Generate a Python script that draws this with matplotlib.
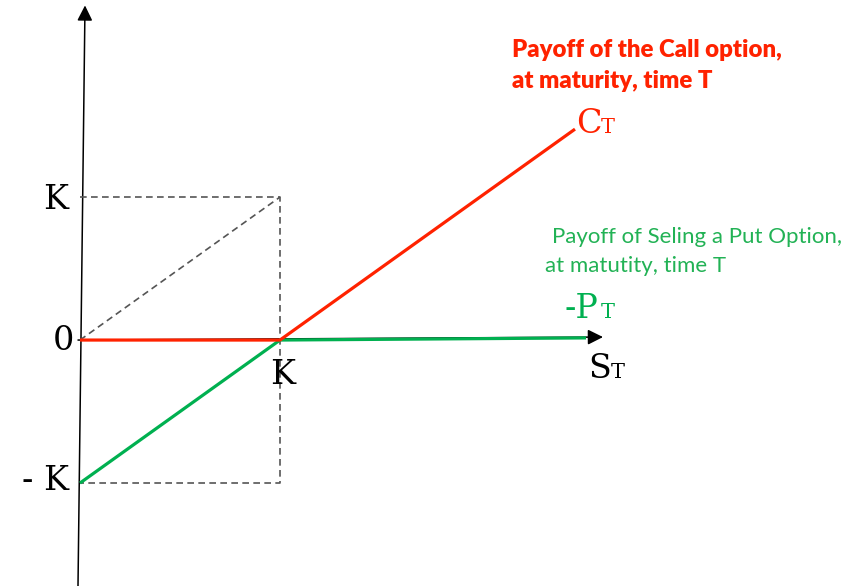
import matplotlib
matplotlib.use("Agg")
import matplotlib.pyplot as plt

# payoff diagram, units where strike K = 1
strike = 1.0
call_s = [0.0, 1.0, 2.475]
call_payoff = [0.0, 0.0, 1.475]
put_s = [0.0, 1.0, 2.53]
put_payoff = [-1.0, 0.0, 0.015]

# guide box (dashed)
guide_top_x = [0.0, 1.0, 1.0, 0.0]
guide_top_y = [1.0, 1.0, -1.0, -1.0]
guide_diag_x = [0.0, 1.0]
guide_diag_y = [0.0, 1.0]

red = "#ff2200"
green_line = "#00b050"
green_text = "#22b255"
grey = "#555555"

fig = plt.figure(figsize=(8.67, 5.86), dpi=100)
ax = fig.add_axes([0, 0, 1, 1])
ax.set_xlim(-0.4, 3.935)
ax.set_ylim(-1.72, 2.378)
ax.axis("off")

# axes drawn as arrows
arrow = dict(arrowstyle="-|>,head_length=0.4,head_width=0.2", color="black",
             lw=1.1, mutation_scale=23, shrinkA=0, shrinkB=0)
ax.annotate("", xy=(0.025, 2.34), xytext=(-0.01, -1.72), arrowprops=arrow, zorder=1)
ax.annotate("", xy=(2.615, 0.021), xytext=(-0.01, 0.0), arrowprops=arrow, zorder=1)

# dashed guides
ax.plot(guide_top_x, guide_top_y, color=grey, lw=1.2, ls=(0, (4, 2.6)), zorder=2)
ax.plot(guide_diag_x, guide_diag_y, color=grey, lw=1.2, ls=(0, (4, 2.6)), zorder=2)

# payoffs
ax.plot(put_s, put_payoff, color=green_line, lw=2.3, zorder=3, solid_capstyle="butt")
ax.plot(call_s, call_payoff, color=red, lw=2.3, zorder=4, solid_capstyle="butt")

serif = "DejaVu Serif"
lab = dict(fontsize=24, family=serif)
ax.text(-0.12, 0.98, "K", ha="center", va="center", **lab)
ax.text(-0.085, -0.01, "0", ha="center", va="center", **lab)
ax.text(-0.17, -0.985, "- K", ha="center", va="center", **lab)
ax.text(1.015, -0.245, "K", ha="center", va="center", **lab)

sub = dict(fontsize=15, family=serif)
# S_T
ax.text(2.54, -0.266, "S", ha="left", va="baseline", **lab)
ax.text(2.655, -0.266, "T", ha="left", va="baseline", **sub)
# C_T
ax.text(2.48, 1.448, "C", color=red, ha="left", va="baseline", **lab)
ax.text(2.605, 1.448, "T", color=red, ha="left", va="baseline", **sub)
# -P_T
ax.text(2.42, 0.154, "-P", color=green_line, ha="left", va="baseline", **lab)
ax.text(2.605, 0.154, "T", color=green_line, ha="left", va="baseline", **sub)

# annotations
ax.text(2.16, 1.979, "Payoff of the Call option,", fontsize=17.3, family="Lato",
        weight="heavy", color=red, ha="left", va="baseline")
ax.text(2.16, 1.762, "at maturity, time T", fontsize=17.3, family="Lato",
        weight="heavy", color=red, ha="left", va="baseline")
ax.text(2.36, 0.678, "Payoff of Seling a Put Option,", fontsize=16, family="Lato",
        color=green_text, ha="left", va="baseline")
ax.text(2.325, 0.476, "at matutity, time T", fontsize=16, family="Lato",
        color=green_text, ha="left", va="baseline")

fig.savefig("out.png", dpi=100)
